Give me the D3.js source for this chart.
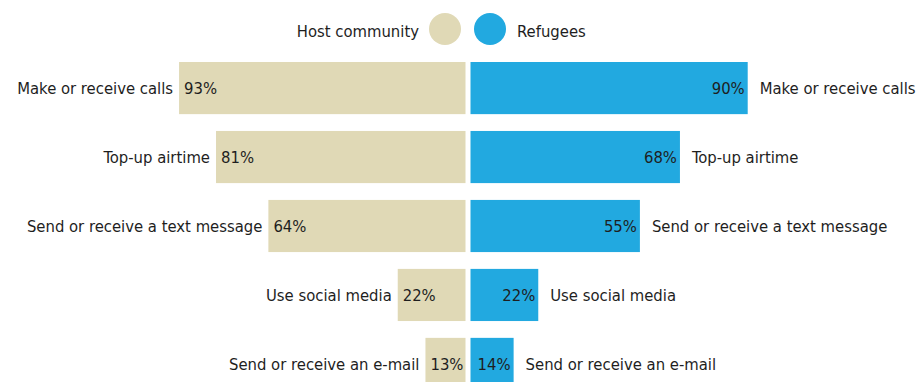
<!DOCTYPE html>
<html>
<head>
<meta charset="utf-8">
<script src="https://cdn.jsdelivr.net/npm/d3@7"></script>
<style>
  html, body { margin: 0; padding: 0; background: #fff; }
  svg text { font-family: "DejaVu Sans Condensed", "DejaVu Sans", sans-serif; fill: #1e1e1e; }
</style>
</head>
<body>
<svg id="chart" width="916" height="382"></svg>
<script>
// Share of respondents using their phone for each activity
const activities = [
  "Make or receive calls",
  "Top-up airtime",
  "Send or receive a text message",
  "Use social media",
  "Send or receive an e-mail"
];
const hostValues = [93, 81, 64, 22, 13];
const refugeeValues = [90, 68, 55, 22, 14];
const groups = ["Host community", "Refugees"];
const colors = ["#e0d9b6", "#22a9e0"];

const svg = d3.select("#chart");
const fontSize = 16.5;

const centre = 468;   // gap between the two halves
const gap = 2.5;

const y = d3.scaleBand()
  .domain(activities)
  .range([62, 390])
  .paddingInner(0.244)
  .paddingOuter(0);

const x = d3.scaleLinear().domain([0, 100]).range([0, 308]);

// Host community bars grow to the left
const left = svg.append("g");
activities.forEach((a, i) => {
  const w = x(hostValues[i]);
  const x0 = centre - gap - w;
  const cy = y(a) + y.bandwidth() / 2;
  left.append("rect")
    .attr("x", x0).attr("y", y(a))
    .attr("width", w).attr("height", y.bandwidth())
    .attr("fill", colors[0]);
  left.append("text")
    .attr("x", x0 + 5).attr("y", cy).attr("dy", "0.35em")
    .style("font-size", fontSize + "px")
    .text(hostValues[i] + "%");
  left.append("text")
    .attr("x", x0 - 6).attr("y", cy).attr("dy", "0.35em")
    .attr("text-anchor", "end")
    .style("font-size", fontSize + "px")
    .text(a);
});

// Refugee bars grow to the right
const right = svg.append("g");
activities.forEach((a, i) => {
  const w = x(refugeeValues[i]);
  const x0 = centre + gap;
  const cy = y(a) + y.bandwidth() / 2;
  right.append("rect")
    .attr("x", x0).attr("y", y(a))
    .attr("width", w).attr("height", y.bandwidth())
    .attr("fill", colors[1]);
  right.append("text")
    .attr("x", x0 + w - 3).attr("y", cy).attr("dy", "0.35em")
    .attr("text-anchor", "end")
    .style("font-size", fontSize + "px")
    .text(refugeeValues[i] + "%");
  right.append("text")
    .attr("x", x0 + w + 12).attr("y", cy).attr("dy", "0.35em")
    .style("font-size", fontSize + "px")
    .text(a);
});

// Legend
const legend = svg.append("g");
legend.append("text")
  .attr("x", 419).attr("y", 31).attr("dy", "0.35em")
  .attr("text-anchor", "end")
  .style("font-size", fontSize + "px")
  .text(groups[0]);
legend.append("circle").attr("cx", 445).attr("cy", 29).attr("r", 16).attr("fill", colors[0]);
legend.append("circle").attr("cx", 490).attr("cy", 29).attr("r", 16).attr("fill", colors[1]);
legend.append("text")
  .attr("x", 517).attr("y", 31).attr("dy", "0.35em")
  .style("font-size", fontSize + "px")
  .text(groups[1]);
</script>
</body>
</html>
